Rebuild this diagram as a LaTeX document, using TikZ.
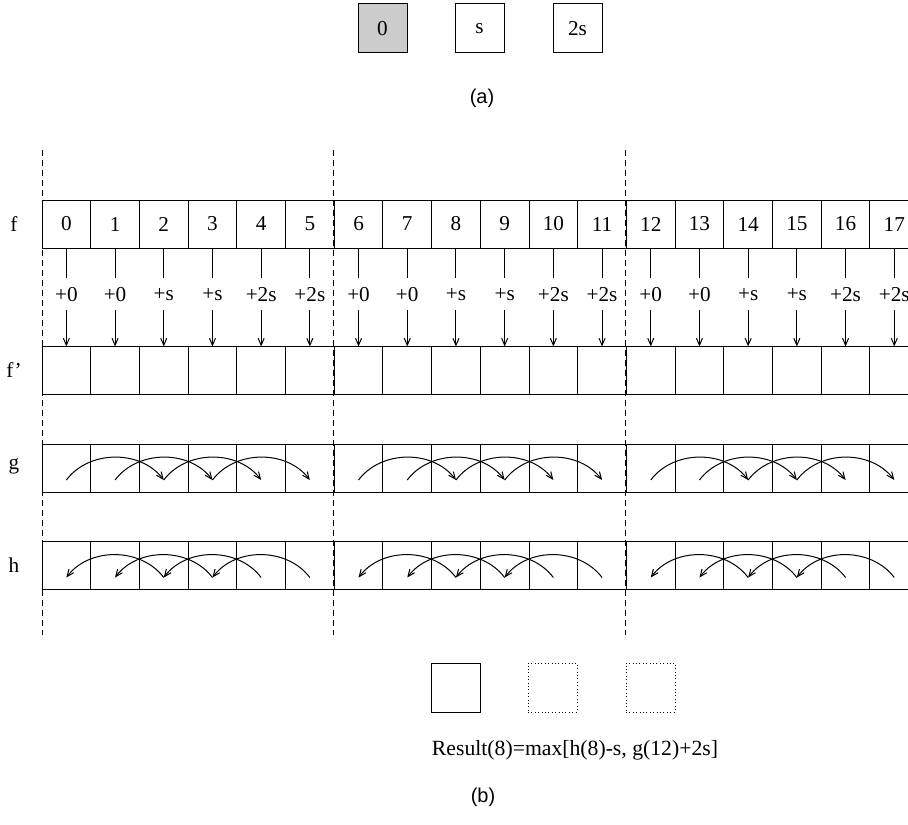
\documentclass[tikz,border=0pt]{standalone}
\usepackage{fontspec}
\setmainfont{Liberation Serif}
\newfontfamily\capfont{Liberation Sans}
\usepackage{tikz}
\usetikzlibrary{arrows.meta, positioning}

\begin{document}
\begin{tikzpicture}[x=0.5pt, y=-0.5pt, line width=0.5pt,
  cell/.style={draw, minimum width=24.35pt, minimum height=24pt, inner sep=0pt, outer sep=0pt, font=\fontsize{10.6}{12}\selectfont},
  key/.style={draw, minimum width=24.5pt, minimum height=24.5pt, inner sep=0pt, outer sep=0pt, font=\fontsize{10.6}{12}\selectfont},
  lbl/.style={font=\fontsize{10.6}{12}\selectfont},
  add/.style={fill=white, inner xsep=1pt, inner ysep=0pt, minimum height=16pt, font=\fontsize{10.6}{12}\selectfont},
  caption/.style={font=\capfont\fontsize{10}{12}\selectfont},
  arr/.style={-{Straight Barb[length=3.5pt, width=3pt]}},
  sep/.style={dash pattern=on 3pt off 2pt},
  ghost/.style={dash pattern=on 0.5pt off 1.2pt}
]
\useasboundingbox (0,0) rectangle (908,824);
\clip (0,0) rectangle (908,824);

% (a)
\node[key, fill=black!20] (k0) at (382.5,28.5) {0};
\node[key] (k1) at (479.5,28.5) {s};
\node[key] (k2) at (577.5,28.5) {2s};
\node[caption] (capa) at (482,98) {(a)};

% block borders
\draw[sep] (42,150) -- (42,635);
\draw[sep] (333,150) -- (333,635);
\draw[sep] (625,150) -- (625,635);

% rows
\node[lbl] (nf) at (14,224) {f};
\node[lbl] (nfp) at (14,370) {f’};
\node[lbl] (ng) at (14,466) {g};
\node[lbl] (nh) at (14,565) {h};
\foreach \i in {0,...,17} {
  \pgfmathsetmacro\cx{66.35+48.7*\i}
  \node[cell] (f\i) at (\cx,224) {\i};
  \node[cell] (fp\i) at (\cx,370.5) {};
  \node[cell] (g\i) at (\cx,468) {};
  \node[cell] (h\i) at (\cx,565.5) {};
}

% shifts
\foreach \b in {0,6,12}
  \foreach \j/\d in {0/+0,1/+0,2/+s,3/+s,4/+2s,5/+2s} {
    \pgfmathtruncatemacro\i{\b+\j}
    \draw[arr] (f\i) -- node[add, pos=0.47] {\d} (fp\i);
  }

% forward and backward passes
\foreach \b in {0,6,12}
  \foreach \j in {0,...,3} {
    \pgfmathtruncatemacro\i{\b+\j}
    \pgfmathtruncatemacro\k{\b+\j+2}
    \draw[arr] ([yshift=-6pt]g\i.center) to[bend left=53] ([yshift=-6pt]g\k.center);
    \draw[arr] ([yshift=-6pt]h\k.center) to[bend right=53] ([yshift=-6pt]h\i.center);
  }

% (b)
\node[key] (r0) at (455.5,687.5) {};
\node[key, ghost] (r1) at (552.5,687.5) {};
\node[key, ghost] (r2) at (650.5,687.5) {};
\node[font=\fontsize{10.85}{13}\selectfont] (res) at (575,750) {Result(8)=max[h(8)-s, g(12)+2s]};
\node[caption] (capb) at (483,797) {(b)};
\end{tikzpicture}
\end{document}
